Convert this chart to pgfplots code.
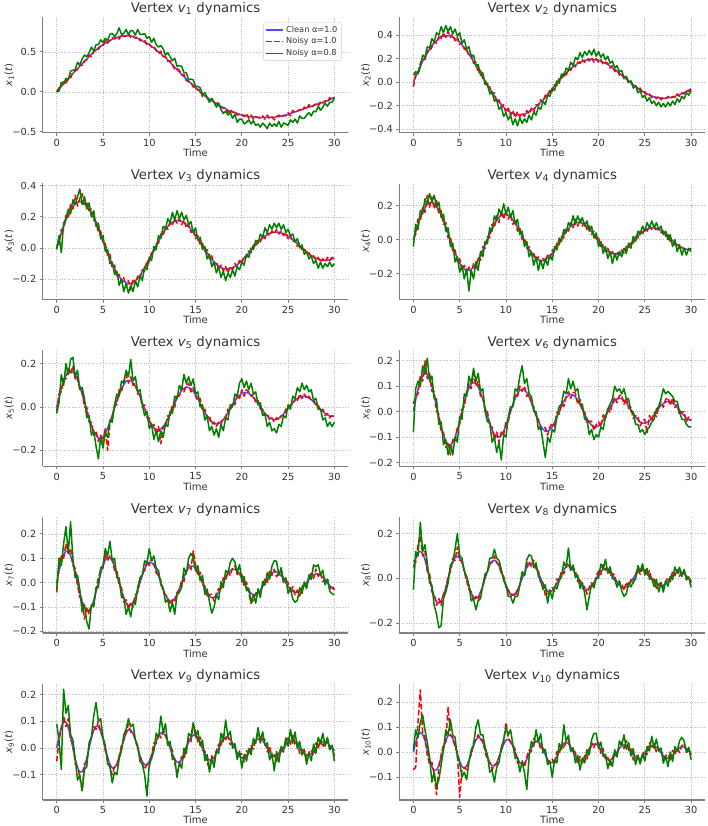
\documentclass[border=0pt]{standalone}
\usepackage{fontspec}
\setmainfont{DejaVu Sans}
\usepackage{pgfplots}
\usepackage{pgfplotstable}
\pgfplotsset{compat=1.18}
\usepgfplotslibrary{groupplots}
\definecolor{spinegray}{HTML}{808080}
\definecolor{textgray}{HTML}{333333}
\definecolor{gridgray}{HTML}{BDBDBD}

\pgfplotstableread{
t c r g
0 0.00 0.00 0.00
0.25 0.03 0.05 0.01
0.5 0.07 0.06 0.12
0.75 0.10 0.13 0.10
1 0.13 0.11 0.17
1.25 0.16 0.17 0.15
1.5 0.20 0.17 0.26
1.75 0.23 0.25 0.27
2 0.26 0.26 0.28
2.25 0.29 0.28 0.37
2.5 0.32 0.35 0.34
2.75 0.35 0.33 0.41
3 0.38 0.39 0.46
3.25 0.41 0.40 0.44
3.5 0.44 0.46 0.49
3.75 0.47 0.44 0.56
4 0.50 0.50 0.51
4.25 0.52 0.54 0.59
4.5 0.55 0.53 0.59
4.75 0.57 0.58 0.65
5 0.59 0.58 0.62
5.25 0.61 0.64 0.67
5.5 0.63 0.61 0.64
5.75 0.64 0.64 0.72
6 0.66 0.68 0.73
6.25 0.67 0.66 0.69
6.5 0.68 0.69 0.73
6.75 0.69 0.66 0.80
7 0.70 0.72 0.72
7.25 0.70 0.69 0.73
7.5 0.70 0.70 0.78
7.75 0.70 0.73 0.71
8 0.70 0.68 0.77
8.25 0.69 0.70 0.76
8.5 0.68 0.67 0.71
8.75 0.67 0.69 0.78
9 0.66 0.64 0.72
9.25 0.64 0.64 0.72
9.5 0.62 0.65 0.73
9.75 0.61 0.58 0.67
10 0.59 0.60 0.69
10.25 0.57 0.56 0.62
10.5 0.55 0.57 0.67
10.75 0.52 0.52 0.59
11 0.50 0.48 0.56
11.25 0.48 0.51 0.58
11.5 0.45 0.44 0.54
11.75 0.43 0.44 0.46
12 0.40 0.38 0.49
12.25 0.37 0.39 0.44
12.5 0.34 0.34 0.39
12.75 0.31 0.28 0.42
13 0.28 0.29 0.32
13.25 0.25 0.27 0.33
13.5 0.22 0.21 0.32
13.75 0.19 0.22 0.24
14 0.16 0.14 0.24
14.25 0.13 0.13 0.15
14.5 0.11 0.12 0.16
14.75 0.08 0.06 0.15
15 0.05 0.07 0.07
15.25 0.03 0.02 0.07
15.5 0.00 0.03 0.05
15.75 -0.03 -0.06 -0.03
16 -0.05 -0.04 -0.01
16.25 -0.07 -0.07 -0.07
16.5 -0.09 -0.11 -0.13
16.75 -0.11 -0.09 -0.08
17 -0.13 -0.14 -0.13
17.25 -0.15 -0.14 -0.19
17.5 -0.17 -0.14 -0.15
17.75 -0.18 -0.20 -0.22
18 -0.20 -0.20 -0.27
18.25 -0.21 -0.20 -0.24
18.5 -0.23 -0.26 -0.29
18.75 -0.24 -0.22 -0.26
19 -0.25 -0.26 -0.33
19.25 -0.26 -0.24 -0.28
19.5 -0.27 -0.29 -0.38
19.75 -0.28 -0.28 -0.34
20 -0.29 -0.28 -0.34
20.25 -0.30 -0.31 -0.40
20.5 -0.30 -0.27 -0.38
20.75 -0.31 -0.33 -0.35
21 -0.31 -0.29 -0.40
21.25 -0.31 -0.34 -0.36
21.5 -0.32 -0.31 -0.42
21.75 -0.32 -0.32 -0.40
22 -0.32 -0.33 -0.44
22.25 -0.32 -0.30 -0.39
22.5 -0.32 -0.34 -0.42
22.75 -0.32 -0.29 -0.46
23 -0.32 -0.33 -0.39
23.25 -0.32 -0.31 -0.43
23.5 -0.32 -0.35 -0.40
23.75 -0.31 -0.31 -0.43
24 -0.31 -0.29 -0.37
24.25 -0.30 -0.32 -0.44
24.5 -0.30 -0.29 -0.39
24.75 -0.29 -0.30 -0.40
25 -0.28 -0.26 -0.42
25.25 -0.27 -0.30 -0.35
25.5 -0.26 -0.23 -0.38
25.75 -0.25 -0.26 -0.34
26 -0.24 -0.24 -0.39
26.25 -0.23 -0.22 -0.30
26.5 -0.22 -0.24 -0.33
26.75 -0.21 -0.19 -0.33
27 -0.20 -0.21 -0.29
27.25 -0.19 -0.16 -0.26
27.5 -0.18 -0.20 -0.30
27.75 -0.17 -0.17 -0.24
28 -0.16 -0.15 -0.25
28.25 -0.15 -0.18 -0.18
28.5 -0.14 -0.12 -0.23
28.75 -0.13 -0.14 -0.19
29 -0.12 -0.11 -0.14
29.25 -0.11 -0.13 -0.18
29.5 -0.10 -0.07 -0.13
29.75 -0.08 -0.09 -0.13
30 -0.07 -0.07 -0.08
}\dA

\pgfplotstableread{
t c r g
0 0 -0.04 0.06
0.25 0.045 0.07 0.09
0.5 0.089 0.08 0.07
0.75 0.134 0.16 0.13
1 0.178 0.20 0.23
1.25 0.212 0.19 0.21
1.5 0.246 0.27 0.30
1.75 0.279 0.26 0.29
2 0.313 0.30 0.37
2.25 0.332 0.35 0.34
2.5 0.350 0.33 0.42
2.75 0.369 0.39 0.40
3 0.387 0.37 0.47
3.25 0.389 0.42 0.42
3.5 0.391 0.38 0.48
3.75 0.393 0.43 0.43
4 0.395 0.38 0.47
4.25 0.382 0.41 0.41
4.5 0.368 0.35 0.45
4.75 0.355 0.38 0.39
5 0.341 0.32 0.42
5.25 0.315 0.34 0.33
5.5 0.290 0.28 0.36
5.75 0.264 0.29 0.28
6 0.239 0.22 0.30
6.25 0.207 0.23 0.22
6.5 0.174 0.16 0.23
6.75 0.142 0.17 0.14
7 0.109 0.08 0.15
7.25 0.075 0.10 0.06
7.5 0.041 0.03 0.08
7.75 0.007 0.03 -0.02
8 -0.027 -0.05 -0.01
8.25 -0.057 -0.04 -0.10
8.5 -0.087 -0.10 -0.08
8.75 -0.116 -0.09 -0.16
9 -0.146 -0.17 -0.15
9.25 -0.168 -0.15 -0.23
9.5 -0.190 -0.21 -0.21
9.75 -0.212 -0.19 -0.29
10 -0.234 -0.26 -0.26
10.25 -0.245 -0.22 -0.32
10.5 -0.255 -0.28 -0.28
10.75 -0.266 -0.24 -0.36
11 -0.276 -0.30 -0.31
11.25 -0.275 -0.25 -0.37
11.5 -0.274 -0.29 -0.30
11.75 -0.273 -0.26 -0.35
12 -0.272 -0.29 -0.31
12.25 -0.261 -0.24 -0.34
12.5 -0.249 -0.27 -0.28
12.75 -0.238 -0.22 -0.32
13 -0.226 -0.25 -0.25
13.25 -0.207 -0.19 -0.28
13.5 -0.188 -0.20 -0.21
13.75 -0.169 -0.15 -0.23
14 -0.150 -0.17 -0.16
14.25 -0.127 -0.11 -0.19
14.5 -0.104 -0.12 -0.11
14.75 -0.080 -0.06 -0.12
15 -0.057 -0.08 -0.05
15.25 -0.034 -0.02 -0.07
15.5 -0.010 -0.03 0.01
15.75 0.014 0.03 -0.01
16 0.037 0.02 0.07
16.25 0.057 0.08 0.05
16.5 0.077 0.06 0.12
16.75 0.097 0.11 0.10
17 0.117 0.10 0.17
17.25 0.131 0.15 0.14
17.5 0.145 0.13 0.21
17.75 0.158 0.17 0.19
18 0.172 0.16 0.25
18.25 0.178 0.19 0.21
18.5 0.184 0.17 0.26
18.75 0.189 0.20 0.23
19 0.195 0.18 0.27
19.25 0.193 0.21 0.23
19.5 0.191 0.17 0.28
19.75 0.189 0.20 0.22
20 0.187 0.17 0.26
20.25 0.178 0.19 0.21
20.5 0.168 0.15 0.24
20.75 0.159 0.17 0.19
21 0.150 0.16 0.22
21.25 0.136 0.12 0.16
21.5 0.122 0.14 0.18
21.75 0.107 0.09 0.12
22 0.093 0.11 0.14
22.25 0.077 0.06 0.09
22.5 0.060 0.07 0.10
22.75 0.044 0.03 0.04
23 0.027 0.04 0.05
23.25 0.011 -0.01 0.00
23.5 -0.006 0.01 0.01
23.75 -0.022 -0.03 -0.05
24 -0.038 -0.03 -0.03
24.25 -0.051 -0.07 -0.09
24.5 -0.065 -0.05 -0.07
24.75 -0.078 -0.09 -0.13
25 -0.091 -0.08 -0.11
25.25 -0.100 -0.11 -0.16
25.5 -0.108 -0.10 -0.13
25.75 -0.117 -0.13 -0.18
26 -0.125 -0.12 -0.16
26.25 -0.128 -0.14 -0.20
26.5 -0.131 -0.12 -0.17
26.75 -0.134 -0.15 -0.21
27 -0.137 -0.13 -0.18
27.25 -0.135 -0.14 -0.21
27.5 -0.132 -0.12 -0.17
27.75 -0.130 -0.14 -0.20
28 -0.127 -0.12 -0.16
28.25 -0.120 -0.13 -0.19
28.5 -0.113 -0.10 -0.14
28.75 -0.105 -0.12 -0.17
29 -0.098 -0.09 -0.12
29.25 -0.088 -0.10 -0.14
29.5 -0.077 -0.07 -0.09
29.75 -0.067 -0.08 -0.11
30 -0.056 -0.06 -0.07
}\dB

\pgfplotstableread{
t c r g
0 0 0.01 -0.01
0.25 0.049 0.03 0.08
0.5 0.097 0.12 -0.03
0.75 0.139 0.12 0.16
1 0.181 0.21 0.19
1.25 0.214 0.19 0.25
1.5 0.246 0.28 0.22
1.75 0.266 0.25 0.31
2 0.286 0.34 0.28
2.25 0.293 0.27 0.33
2.5 0.300 0.32 0.38
2.75 0.294 0.35 0.28
3 0.287 0.27 0.33
3.25 0.269 0.29 0.25
3.5 0.251 0.24 0.29
3.75 0.222 0.25 0.20
4 0.194 0.18 0.24
4.25 0.159 0.17 0.14
4.5 0.124 0.10 0.16
4.75 0.085 0.11 0.06
5 0.047 0.03 0.08
5.25 0.008 0.03 -0.02
5.5 -0.031 -0.05 -0.01
5.75 -0.067 -0.04 -0.10
6 -0.102 -0.13 -0.09
6.25 -0.132 -0.11 -0.17
6.5 -0.161 -0.19 -0.15
6.75 -0.182 -0.17 -0.24
7 -0.203 -0.22 -0.20
7.25 -0.215 -0.19 -0.28
7.5 -0.226 -0.25 -0.23
7.75 -0.227 -0.21 -0.29
8 -0.229 -0.27 -0.24
8.25 -0.220 -0.20 -0.28
8.5 -0.211 -0.23 -0.21
8.75 -0.194 -0.18 -0.25
9 -0.176 -0.20 -0.18
9.25 -0.152 -0.14 -0.21
9.5 -0.128 -0.15 -0.12
9.75 -0.100 -0.08 -0.14
10 -0.072 -0.09 -0.06
10.25 -0.041 -0.03 -0.08
10.5 -0.011 -0.03 0.01
10.75 0.018 0.03 -0.01
11 0.047 0.03 0.08
11.25 0.072 0.09 0.06
11.5 0.098 0.08 0.14
11.75 0.118 0.14 0.12
12 0.138 0.12 0.19
12.25 0.152 0.17 0.16
12.5 0.165 0.15 0.23
12.75 0.171 0.19 0.18
13 0.176 0.16 0.24
13.25 0.174 0.19 0.19
13.5 0.172 0.15 0.23
13.75 0.162 0.18 0.18
14 0.153 0.13 0.21
14.25 0.137 0.15 0.15
14.5 0.122 0.10 0.17
14.75 0.101 0.12 0.10
15 0.081 0.06 0.13
15.25 0.059 0.08 0.05
15.5 0.036 0.02 0.07
15.75 0.013 0.03 -0.01
16 -0.010 -0.02 0.01
16.25 -0.031 -0.01 -0.07
16.5 -0.053 -0.07 -0.04
16.75 -0.071 -0.05 -0.12
17 -0.089 -0.11 -0.09
17.25 -0.102 -0.09 -0.16
17.5 -0.116 -0.14 -0.12
17.75 -0.124 -0.11 -0.19
18 -0.132 -0.15 -0.15
18.25 -0.133 -0.12 -0.21
18.5 -0.135 -0.16 -0.16
18.75 -0.131 -0.12 -0.19
19 -0.127 -0.14 -0.14
19.25 -0.118 -0.10 -0.18
19.5 -0.109 -0.12 -0.12
19.75 -0.095 -0.08 -0.14
20 -0.081 -0.10 -0.09
20.25 -0.065 -0.05 -0.11
20.5 -0.049 -0.06 -0.04
20.75 -0.031 -0.02 -0.06
21 -0.014 -0.03 0.00
21.25 0.004 0.02 -0.01
21.5 0.021 0.01 0.05
21.75 0.037 0.05 0.03
22 0.052 0.04 0.09
22.25 0.065 0.08 0.07
22.5 0.078 0.06 0.13
22.75 0.086 0.10 0.10
23 0.095 0.08 0.15
23.25 0.099 0.11 0.12
23.5 0.103 0.09 0.16
23.75 0.103 0.12 0.13
24 0.102 0.09 0.16
24.25 0.097 0.11 0.12
24.5 0.093 0.08 0.15
24.75 0.084 0.10 0.10
25 0.076 0.06 0.12
25.25 0.064 0.08 0.08
25.5 0.053 0.04 0.09
25.75 0.040 0.05 0.04
26 0.027 0.01 0.06
26.25 0.013 0.03 0.00
26.5 -0.001 -0.01 0.02
26.75 -0.014 0.00 -0.04
27 -0.026 -0.04 -0.02
27.25 -0.038 -0.03 -0.07
27.5 -0.049 -0.06 -0.05
27.75 -0.057 -0.05 -0.10
28 -0.066 -0.08 -0.08
28.25 -0.071 -0.06 -0.13
28.5 -0.076 -0.09 -0.09
28.75 -0.078 -0.07 -0.13
29 -0.080 -0.09 -0.10
29.25 -0.078 -0.06 -0.12
29.5 -0.076 -0.08 -0.09
29.75 -0.071 -0.06 -0.12
30 -0.066 -0.07 -0.10
}\dC

\pgfplotstableread{
t c r g
0 0 0.01 -0.04
0.25 0.045 0.03 0.09
0.5 0.091 0.12 0.06
0.75 0.127 0.11 0.17
1 0.164 0.19 0.15
1.25 0.186 0.16 0.24
1.5 0.209 0.26 0.21
1.75 0.214 0.19 0.27
2 0.220 0.25 0.22
2.25 0.209 0.18 0.26
2.5 0.198 0.23 0.19
2.75 0.172 0.15 0.22
3 0.147 0.17 0.13
3.25 0.111 0.09 0.15
3.5 0.076 0.10 0.05
3.75 0.037 0.01 0.07
4 -0.003 0.02 -0.04
4.25 -0.040 -0.07 -0.02
4.5 -0.078 -0.06 -0.13
4.75 -0.107 -0.13 -0.10
5 -0.137 -0.11 -0.19
5.25 -0.155 -0.18 -0.15
5.5 -0.173 -0.15 -0.23
5.75 -0.177 -0.20 -0.17
6 -0.181 -0.16 -0.30
6.25 -0.172 -0.20 -0.18
6.5 -0.162 -0.14 -0.23
6.75 -0.141 -0.17 -0.13
7 -0.119 -0.10 -0.18
7.25 -0.090 -0.12 -0.07
7.5 -0.060 -0.04 -0.10
7.75 -0.028 -0.05 -0.01
8 0.005 0.02 -0.02
8.25 0.035 0.01 0.07
8.5 0.066 0.09 0.05
8.75 0.090 0.07 0.14
9 0.115 0.14 0.11
9.25 0.129 0.10 0.18
9.5 0.144 0.17 0.15
9.75 0.147 0.12 0.21
10 0.150 0.17 0.15
10.25 0.141 0.12 0.19
10.5 0.133 0.15 0.13
10.75 0.115 0.09 0.17
11 0.097 0.12 0.09
11.25 0.072 0.05 0.12
11.5 0.048 0.07 0.03
11.75 0.021 0.00 0.05
12 -0.006 0.01 -0.04
12.25 -0.031 -0.05 -0.01
12.5 -0.056 -0.04 -0.10
12.75 -0.076 -0.09 -0.07
13 -0.096 -0.08 -0.15
13.25 -0.108 -0.12 -0.10
13.5 -0.119 -0.10 -0.18
13.75 -0.121 -0.14 -0.12
14 -0.123 -0.11 -0.17
14.25 -0.116 -0.13 -0.11
14.5 -0.109 -0.09 -0.15
14.75 -0.094 -0.11 -0.09
15 -0.079 -0.06 -0.12
15.25 -0.058 -0.07 -0.04
15.5 -0.038 -0.02 -0.06
15.75 -0.016 -0.03 0.01
16 0.007 0.02 -0.01
16.25 0.027 0.01 0.06
16.5 0.048 0.07 0.04
16.75 0.064 0.05 0.10
17 0.080 0.10 0.08
17.25 0.089 0.07 0.14
17.5 0.099 0.12 0.09
17.75 0.100 0.08 0.14
18 0.102 0.12 0.10
18.25 0.096 0.08 0.13
18.5 0.089 0.10 0.08
18.75 0.077 0.06 0.11
19 0.064 0.08 0.05
19.25 0.047 0.03 0.08
19.5 0.030 0.05 0.01
19.75 0.012 0.00 0.04
20 -0.007 0.01 -0.04
20.25 -0.024 -0.04 -0.01
20.5 -0.041 -0.03 -0.08
20.75 -0.054 -0.07 -0.04
21 -0.067 -0.05 -0.11
21.25 -0.075 -0.09 -0.07
21.5 -0.082 -0.07 -0.14
21.75 -0.083 -0.10 -0.08
22 -0.084 -0.07 -0.12
22.25 -0.079 -0.09 -0.07
22.5 -0.073 -0.06 -0.10
22.75 -0.062 -0.08 -0.05
23 -0.052 -0.04 -0.08
23.25 -0.038 -0.05 -0.02
23.5 -0.024 -0.01 -0.05
23.75 -0.009 -0.02 0.02
24 0.007 0.02 -0.01
24.25 0.021 0.01 0.05
24.5 0.035 0.05 0.03
24.75 0.045 0.03 0.08
25 0.056 0.07 0.05
25.25 0.062 0.05 0.10
25.5 0.068 0.08 0.07
25.75 0.069 0.06 0.11
26 0.069 0.08 0.07
26.25 0.065 0.05 0.10
26.5 0.060 0.07 0.06
26.75 0.051 0.04 0.08
27 0.042 0.05 0.03
27.25 0.030 0.02 0.05
27.5 0.019 0.03 0.00
27.75 0.006 -0.01 0.03
28 -0.006 0.00 -0.04
28.25 -0.018 -0.03 0.00
28.5 -0.029 -0.02 -0.07
28.75 -0.038 -0.05 -0.03
29 -0.047 -0.04 -0.09
29.25 -0.052 -0.06 -0.05
29.5 -0.056 -0.05 -0.09
29.75 -0.057 -0.06 -0.05
30 -0.057 -0.05 -0.07
}\dD

\pgfplotstableread{
t c r g
0 0 -0.02 -0.03
0.25 0.043 0.06 0.02
0.5 0.086 0.07 0.15
0.75 0.116 0.13 0.10
1 0.147 0.13 0.20
1.25 0.158 0.18 0.15
1.5 0.170 0.15 0.22
1.75 0.161 0.19 0.23
2 0.151 0.13 0.14
2.25 0.124 0.14 0.17
2.5 0.097 0.08 0.08
2.75 0.060 0.07 0.09
3 0.022 0.00 0.04
3.25 -0.016 0.00 -0.05
3.5 -0.054 -0.07 -0.04
3.75 -0.084 -0.07 -0.13
4 -0.114 -0.13 -0.11
4.25 -0.129 -0.11 -0.18
4.5 -0.144 -0.16 -0.24
4.75 -0.141 -0.13 -0.14
5 -0.138 -0.16 -0.19
5.25 -0.119 -0.10 -0.12
5.5 -0.099 -0.20 -0.14
5.75 -0.069 -0.08 -0.06
6 -0.038 -0.05 -0.07
6.25 -0.005 0.01 0.01
6.5 0.029 0.01 0.06
6.75 0.057 0.08 0.05
7 0.086 0.07 0.12
7.25 0.103 0.12 0.11
7.5 0.120 0.15 0.17
7.75 0.122 0.11 0.14
8 0.123 0.14 0.22
8.25 0.110 0.10 0.12
8.5 0.097 0.11 0.14
8.75 0.073 0.06 0.07
9 0.049 0.06 0.08
9.25 0.020 0.00 0.01
9.5 -0.009 0.01 -0.04
9.75 -0.035 -0.05 -0.02
10 -0.062 -0.05 -0.10
10.25 -0.079 -0.10 -0.08
10.5 -0.097 -0.08 -0.15
10.75 -0.103 -0.13 -0.11
11 -0.108 -0.09 -0.16
11.25 -0.100 -0.17 -0.11
11.5 -0.092 -0.09 -0.14
11.75 -0.074 -0.09 -0.08
12 -0.055 -0.04 -0.09
12.25 -0.031 -0.04 -0.02
12.5 -0.007 0.01 -0.03
12.75 0.017 0.00 0.05
13 0.041 0.06 0.04
13.25 0.059 0.05 0.10
13.5 0.077 0.09 0.08
13.75 0.085 0.07 0.15
14 0.093 0.10 0.11
14.25 0.089 0.11 0.14
14.5 0.085 0.07 0.10
14.75 0.072 0.09 0.13
15 0.058 0.05 0.06
15.25 0.038 0.03 0.07
15.5 0.018 0.04 0.00
15.75 -0.003 -0.02 0.01
16 -0.024 -0.01 -0.06
16.25 -0.042 -0.05 -0.04
16.5 -0.059 -0.04 -0.11
16.75 -0.068 -0.08 -0.09
17 -0.078 -0.07 -0.13
17.25 -0.077 -0.09 -0.10
17.5 -0.077 -0.07 -0.14
17.75 -0.068 -0.08 -0.08
18 -0.058 -0.05 -0.11
18.25 -0.042 -0.05 -0.05
18.5 -0.026 -0.01 -0.06
18.75 -0.007 -0.02 0.01
19 0.011 0.02 0.00
19.25 0.027 0.01 0.06
19.5 0.044 0.06 0.05
19.75 0.054 0.04 0.11
20 0.064 0.08 0.13
20.25 0.066 0.05 0.09
20.5 0.068 0.08 0.12
20.75 0.062 0.07 0.08
21 0.056 0.05 0.11
21.25 0.043 0.06 0.06
21.5 0.031 0.02 0.07
21.75 0.015 0.03 0.01
22 -0.001 -0.01 0.02
22.25 -0.015 -0.01 -0.04
22.5 -0.030 -0.04 -0.03
22.75 -0.041 -0.03 -0.09
23 -0.051 -0.06 -0.07
23.25 -0.055 -0.05 -0.11
23.5 -0.059 -0.07 -0.10
23.75 -0.056 -0.05 -0.12
24 -0.052 -0.06 -0.08
24.25 -0.043 -0.04 -0.09
24.5 -0.033 -0.04 -0.04
24.75 -0.020 -0.01 -0.05
25 -0.007 -0.01 0.01
25.25 0.006 0.01 -0.01
25.5 0.019 0.01 0.05
25.75 0.030 0.04 0.04
26 0.040 0.03 0.09
26.25 0.045 0.06 0.07
26.5 0.050 0.04 0.11
26.75 0.049 0.06 0.08
27 0.048 0.04 0.10
27.25 0.041 0.05 0.07
27.5 0.034 0.03 0.08
27.75 0.024 0.03 0.03
28 0.013 0.01 0.04
28.25 0.001 0.01 -0.01
28.5 -0.010 -0.02 -0.01
28.75 -0.020 -0.01 -0.06
29 -0.030 -0.04 -0.05
29.25 -0.036 -0.03 -0.09
29.5 -0.042 -0.05 -0.07
29.75 -0.042 -0.04 -0.09
30 -0.043 -0.05 -0.07
}\dE

\pgfplotstableread{
t c r g
0 0 0.03 -0.08
0.25 0.047 0.06 0.09
0.5 0.088 0.07 0.12
0.75 0.121 0.14 0.10
1 0.142 0.12 0.18
1.25 0.150 0.20 0.15
1.5 0.145 0.13 0.21
1.75 0.127 0.15 0.12
2 0.099 0.08 0.14
2.25 0.062 0.08 0.05
2.5 0.021 0.00 0.05
2.75 -0.021 -0.01 -0.05
3 -0.060 -0.08 -0.04
3.25 -0.093 -0.08 -0.13
3.5 -0.116 -0.14 -0.11
3.75 -0.129 -0.12 -0.17
4 -0.131 -0.17 -0.13
4.25 -0.121 -0.11 -0.17
4.5 -0.100 -0.12 -0.10
4.75 -0.071 -0.06 -0.12
5 -0.037 -0.05 -0.02
5.25 0 0.01 -0.03
5.5 0.036 0.02 0.07
5.75 0.068 0.08 0.06
6 0.093 0.11 0.14
6.25 0.109 0.09 0.11
6.5 0.115 0.15 0.17
6.75 0.111 0.10 0.12
7 0.098 0.12 0.15
7.25 0.076 0.06 0.08
7.5 0.048 0.06 0.09
7.75 0.016 0.00 0.00
8 -0.016 0.00 -0.04
8.25 -0.046 -0.06 -0.04
8.5 -0.071 -0.06 -0.12
8.75 -0.090 -0.11 -0.10
9 -0.099 -0.08 -0.16
9.25 -0.100 -0.12 -0.12
9.5 -0.093 -0.08 -0.19
9.75 -0.077 -0.09 -0.09
10 -0.055 -0.04 -0.10
10.25 -0.028 -0.04 -0.02
10.5 0 0.01 0.02
10.75 0.028 0.02 0.02
11 0.052 0.07 0.09
11.25 0.071 0.06 0.08
11.5 0.084 0.10 0.14
11.75 0.089 0.08 0.18
12 0.086 0.10 0.11
12.25 0.075 0.06 0.13
12.5 0.058 0.07 0.07
12.75 0.037 0.03 0.06
13 0.012 0.02 0.00
13.25 -0.012 -0.02 0.00
13.5 -0.035 -0.03 -0.07
13.75 -0.055 -0.07 -0.06
14 -0.069 -0.064 -0.12
14.25 -0.077 -0.062 -0.18
14.5 -0.077 -0.092 -0.10
14.75 -0.071 -0.061 -0.12
15 -0.059 -0.044 -0.07
15.25 -0.042 -0.057 -0.08
15.5 -0.022 -0.002 -0.02
15.75 0 -0.010 0.02
16 0.021 0.031 0.03
16.25 0.040 0.020 0.08
16.5 0.055 0.060 0.07
16.75 0.064 0.079 0.13
17 0.068 0.053 0.09
17.25 0.066 0.076 0.12
17.5 0.058 0.073 0.08
17.75 0.045 0.030 0.09
18 0.028 0.048 0.03
18.25 0.010 0.000 0.03
18.5 -0.010 0.000 -0.03
18.75 -0.027 -0.047 -0.03
19 -0.042 -0.037 -0.09
19.25 -0.053 -0.038 -0.07
19.5 -0.059 -0.074 -0.11
19.75 -0.060 -0.050 -0.09
20 -0.055 -0.040 -0.10
20.25 -0.046 -0.061 -0.06
20.5 -0.032 -0.012 -0.07
20.75 -0.017 -0.027 -0.02
21 0 0.010 0.01
21.25 0.016 -0.004 0.03
21.5 0.031 0.036 0.05
21.75 0.042 0.057 0.10
22 0.050 0.035 0.08
22.25 0.053 0.063 0.09
22.5 0.051 0.066 0.07
22.75 0.044 0.029 0.09
23 0.035 0.055 0.05
23.25 0.022 0.012 0.05
23.5 0.007 0.017 0.00
23.75 -0.007 -0.027 0.00
24 -0.021 -0.016 -0.05
24.25 -0.032 -0.017 -0.05
24.5 -0.041 -0.056 -0.08
24.75 -0.045 -0.035 -0.07
25 -0.046 -0.031 -0.09
25.25 -0.042 -0.085 -0.07
25.5 -0.035 -0.015 -0.06
25.75 -0.025 -0.035 -0.04
26 -0.013 -0.003 -0.03
26.25 0 -0.020 0.01
26.5 0.013 0.018 0.02
26.75 0.024 0.039 0.05
27 0.032 0.017 0.09
27.25 0.038 0.048 0.07
27.5 0.040 0.055 0.08
27.75 0.039 0.024 0.07
28 0.034 0.054 0.06
28.25 0.027 0.017 0.04
28.5 0.017 0.027 0.04
28.75 0.006 -0.014 0.00
29 -0.006 -0.001 -0.03
29.25 -0.016 -0.001 -0.03
29.5 -0.025 -0.040 -0.05
29.75 -0.031 -0.021 -0.06
30 -0.035 -0.035 -0.06
}\dF

\pgfplotstableread{
t c r g
0 0 -0.04 -0.03
0.25 0.046 0.07 0.10
0.5 0.086 0.11 0.07
0.75 0.115 0.10 0.16
1 0.129 0.16 0.23
1.25 0.127 0.12 0.12
1.5 0.111 0.14 0.25
1.75 0.081 0.07 0.10
2 0.043 0.06 0.02
2.25 0 -0.01 0.03
2.5 -0.042 -0.06 -0.03
2.75 -0.077 -0.07 -0.12
3 -0.103 -0.15 -0.09
3.25 -0.116 -0.10 -0.16
3.5 -0.115 -0.13 -0.19
3.75 -0.100 -0.09 -0.09
4 -0.073 -0.09 -0.10
4.25 -0.038 -0.03 -0.02
4.5 0 0.02 -0.02
4.75 0.038 0.05 0.06
5 0.070 0.06 0.07
5.25 0.093 0.12 0.14
5.5 0.104 0.09 0.11
5.75 0.103 0.11 0.17
6 0.090 0.10 0.09
6.25 0.066 0.05 0.10
6.5 0.035 0.05 0.02
6.75 0 -0.01 0.02
7 -0.034 -0.02 -0.06
7.25 -0.063 -0.08 -0.06
7.5 -0.083 -0.07 -0.13
7.75 -0.094 -0.11 -0.10
8 -0.093 -0.08 -0.14
8.25 -0.081 -0.10 -0.08
8.5 -0.059 -0.05 -0.09
8.75 -0.031 -0.04 -0.02
9 0 0.01 0.02
9.25 0.030 0.04 0.03
9.5 0.056 0.05 0.09
9.75 0.075 0.09 0.08
10 0.084 0.07 0.14
10.25 0.083 0.10 0.09
10.5 0.072 0.08 0.11
10.75 0.053 0.04 0.06
11 0.028 0.03 0.05
11.25 0 0.01 -0.01
11.5 -0.027 -0.04 -0.02
11.75 -0.051 -0.05 -0.08
12 -0.068 -0.06 -0.07
12.25 -0.076 -0.09 -0.12
12.5 -0.075 -0.07 -0.08
12.75 -0.065 -0.08 -0.13
13 -0.048 -0.04 -0.05
13.25 -0.025 -0.03 -0.04
13.5 0 0.010 -0.020
13.75 0.025 0.005 0.060
14 0.046 0.051 0.036
14.25 0.061 0.076 0.100
14.5 0.068 0.053 0.120
14.75 0.068 0.130 0.103
15 0.059 0.074 0.048
15.25 0.043 0.028 0.069
15.5 0.023 0.043 0.008
15.75 0 -0.010 0.030
16 -0.022 -0.012 -0.048
16.25 -0.041 -0.061 -0.026
16.5 -0.055 -0.050 -0.078
16.75 -0.062 -0.047 -0.125
17 -0.061 -0.076 -0.101
17.25 -0.053 -0.043 -0.051
17.5 -0.039 -0.024 -0.069
17.75 -0.020 -0.035 0.004
18 0 0.020 -0.020
18.25 0.020 0.010 0.050
18.5 0.037 0.047 0.037
18.75 0.049 0.029 0.083
19 0.055 0.060 0.100
19.25 0.055 0.070 0.085
19.5 0.048 0.033 0.041
19.75 0.035 0.045 0.075
20 0.018 0.033 0.004
20.25 0 -0.015 0.025
20.5 -0.018 0.002 -0.033
20.75 -0.033 -0.043 -0.023
21 -0.044 -0.085 -0.082
21.25 -0.050 -0.070 -0.049
21.5 -0.049 -0.044 -0.084
21.75 -0.043 -0.028 -0.025
22 -0.031 -0.046 -0.061
22.25 -0.016 -0.006 0.004
22.5 0 0.015 -0.010
22.75 0.016 0.001 0.041
23 0.030 0.050 0.014
23.25 0.040 0.030 0.067
23.5 0.045 0.055 0.090
23.75 0.044 0.024 0.088
24 0.038 0.043 0.030
24.25 0.028 0.043 0.062
24.5 0.015 0.000 0.009
24.75 0 0.010 0.020
25 -0.015 0.001 -0.044
25.25 -0.027 -0.042 -0.021
25.5 -0.036 -0.016 -0.067
25.75 -0.040 -0.050 -0.080
26 -0.040 -0.030 -0.073
26.25 -0.035 -0.055 -0.021
26.5 -0.025 -0.020 -0.044
26.75 -0.013 0.002 0.002
27 0 -0.015 -0.025
27.25 0.013 0.023 0.032
27.5 0.024 0.039 0.013
27.75 0.032 0.017 0.073
28 0.036 0.056 0.065
28.25 0.036 0.026 0.074
28.5 0.031 0.041 0.032
28.75 0.023 0.003 0.051
29 0.012 0.017 -0.009
29.25 0 0.015 0.015
29.5 -0.012 -0.027 -0.036
29.75 -0.022 -0.012 -0.045
30 -0.029 -0.030 -0.050
}\dG

\pgfplotstableread{
t c r g
0 0.048 0.08 -0.05
0.25 0.088 0.07 0.12
0.5 0.114 0.15 0.10
0.75 0.121 0.19 0.25
1 0.111 0.10 0.12
1.25 0.084 0.12 0.15
1.5 0.045 0.03 0.07
1.75 0 0.02 -0.02
2 -0.044 -0.06 -0.03
2.25 -0.080 -0.07 -0.12
2.5 -0.103 -0.12 -0.16
2.75 -0.110 -0.09 -0.22
3 -0.100 -0.12 -0.21
3.25 -0.076 -0.07 -0.09
3.5 -0.041 -0.05 -0.06
3.75 0 0.01 -0.02
4 0.040 0.03 0.06
4.25 0.072 0.09 0.07
4.5 0.093 0.08 0.13
4.75 0.099 0.14 0.20
5 0.091 0.08 0.10
5.25 0.069 0.08 0.09
5.5 0.037 0.03 0.03
5.75 0 -0.01 0.01
6 -0.036 -0.05 -0.03
6.25 -0.065 -0.06 -0.10
6.5 -0.084 -0.10 -0.09
6.75 -0.090 -0.08 -0.14
7 -0.082 -0.10 -0.10
7.25 -0.062 -0.06 -0.09
7.5 -0.033 -0.04 -0.03
7.75 0 0.01 0.02
8 0.032 0.03 0.03
8.25 0.059 0.07 0.09
8.5 0.076 0.07 0.09
8.75 0.082 0.10 0.13
9 0.074 0.07 0.09
9.25 0.056 0.06 0.08
9.5 0.030 0.02 0.04
9.75 0 0.01 -0.01
10 -0.029 -0.04 -0.03
10.25 -0.053 -0.05 -0.08
10.5 -0.069 -0.08 -0.08
10.75 -0.074 -0.07 -0.11
11 -0.067 -0.08 -0.08
11.25 -0.051 -0.05 -0.08
11.5 -0.027 -0.03 -0.03
11.75 0 0.015 0.030
12 0.027 0.012 0.012
12.25 0.048 0.058 0.083
12.5 0.062 0.077 0.105
12.75 0.067 0.052 0.100
13 0.061 0.081 0.048
13.25 0.046 0.036 0.070
13.5 0.025 0.035 0.010
13.75 0 -0.020 -0.010
14 -0.024 -0.019 -0.049
14.25 -0.044 -0.075 -0.028
14.5 -0.057 -0.072 -0.110
14.75 -0.060 -0.050 -0.052
15 -0.055 -0.040 -0.091
15.25 -0.042 -0.057 -0.035
15.5 -0.022 -0.002 -0.047
15.75 0 -0.010 -0.010
16 0.022 0.032 0.006
16.25 0.040 0.020 0.073
16.5 0.051 0.056 0.051
16.75 0.055 0.070 0.135
17 0.050 0.035 0.035
17.25 0.038 0.048 0.060
17.5 0.020 0.035 0.004
17.75 0 -0.015 0.015
18 -0.020 0.000 -0.044
18.25 -0.036 -0.046 -0.018
18.5 -0.046 -0.036 -0.066
18.75 -0.050 -0.070 -0.140
19 -0.045 -0.040 -0.079
19.25 -0.034 -0.019 -0.026
19.5 -0.018 -0.033 -0.042
19.75 0 0.010 0.000
20 0.018 0.033 0.001
20.25 0.032 0.017 0.064
20.5 0.042 0.062 0.040
20.75 0.045 0.035 0.085
21 0.041 0.051 0.024
21.25 0.031 0.011 0.052
21.5 0.017 0.022 0.000
21.75 0 0.015 -0.005
22 -0.016 -0.031 -0.039
22.25 -0.029 -0.019 -0.010
22.5 -0.038 -0.023 -0.055
22.75 -0.040 -0.055 -0.080
23 -0.037 -0.017 -0.069
23.25 -0.028 -0.038 -0.019
23.5 -0.015 -0.005 -0.038
23.75 0 -0.020 -0.015
24 0.015 0.020 -0.003
24.25 0.027 0.042 0.057
24.5 0.034 0.019 0.031
24.75 0.037 0.047 0.065
25 0.033 0.048 0.015
25.25 0.025 0.010 0.045
25.5 0.014 0.034 -0.004
25.75 0 -0.010 0.000
26 -0.013 -0.003 -0.036
26.25 -0.024 -0.044 -0.004
26.5 -0.031 -0.026 -0.060
26.75 -0.033 -0.018 -0.020
27 -0.030 -0.045 -0.061
27.25 -0.023 -0.013 -0.012
27.5 -0.012 0.003 -0.035
27.75 0 -0.015 0.010
28 0.012 0.032 -0.006
28.25 0.022 0.012 0.051
28.5 0.028 0.038 0.024
28.75 0.030 0.010 0.050
29 0.027 0.032 0.008
29.25 0.021 0.036 0.040
29.5 0.011 -0.004 -0.007
29.75 0 0.010 0.005
30 -0.011 -0.020 -0.040
}\dH

\pgfplotstableread{
t c r g
0 0 -0.05 0.09
0.25 0.045 0.03 0.03
0.5 0.079 0.07 -0.08
0.75 0.098 0.12 0.22
1 0.097 0.08 0.13
1.25 0.077 0.11 0.16
1.5 0.042 0.03 0.05
1.75 0 0.02 0.03
2 -0.041 -0.06 -0.04
2.25 -0.073 -0.07 -0.12
2.5 -0.090 -0.11 -0.10
2.75 -0.088 -0.16 -0.16
3 -0.070 -0.06 -0.08
3.25 -0.038 -0.05 -0.07
3.5 0 0.01 0.02
3.75 0.038 0.04 0.04
4 0.067 0.08 0.12
4.25 0.082 0.07 0.17
4.5 0.081 0.10 0.10
4.75 0.064 0.06 0.11
5 0.035 0.04 0.04
5.25 0 -0.01 0.01
5.5 -0.034 -0.04 -0.06
5.75 -0.061 -0.07 -0.07
6 -0.075 -0.10 -0.13
6.25 -0.074 -0.07 -0.09
6.5 -0.059 -0.07 -0.10
6.75 -0.032 -0.03 -0.04
7 0 0.01 -0.01
7.25 0.031 0.03 0.05
7.5 0.056 0.06 0.07
7.75 0.069 0.09 0.11
8 0.068 0.06 0.08
8.25 0.054 0.06 0.09
8.5 0.030 0.03 0.03
8.75 0 0.00 0.01
9 -0.029 -0.03 -0.05
9.25 -0.051 -0.06 -0.06
9.5 -0.063 -0.08 -0.10
9.75 -0.062 -0.06 -0.18
10 -0.049 -0.07 -0.06
10.25 -0.027 -0.03 -0.04
10.5 0 0.020 -0.010
10.75 0.026 0.016 0.056
11 0.047 0.057 0.038
11.25 0.058 0.038 0.120
11.5 0.057 0.062 0.057
11.75 0.045 0.060 0.091
12 0.025 0.010 0.013
12.25 0 0.010 0.025
12.5 -0.024 -0.009 -0.043
12.75 -0.043 -0.058 -0.038
13 -0.053 -0.090 -0.110
13.25 -0.052 -0.062 -0.056
13.5 -0.042 -0.032 -0.076
13.75 -0.023 -0.043 -0.001
14 0 0.005 -0.020
14.25 0.022 0.037 0.055
14.5 0.039 0.024 0.043
14.75 0.049 0.090 0.095
15 0.048 0.063 0.040
15.25 0.038 0.023 0.066
15.5 0.021 0.041 0.008
15.75 0 -0.010 0.030
16 -0.020 -0.010 -0.047
16.25 -0.036 -0.056 -0.024
16.5 -0.045 -0.075 -0.090
16.75 -0.044 -0.029 -0.039
17 -0.035 -0.050 -0.072
17.25 -0.019 -0.009 -0.011
17.5 0 0.015 -0.020
17.75 0.019 0.004 0.055
18 0.033 0.053 0.025
18.25 0.041 0.031 0.105
18.5 0.040 0.050 0.044
18.75 0.032 0.012 0.063
19 0.018 0.023 -0.001
19.25 0 0.015 0.015
19.5 -0.017 -0.032 -0.043
19.75 -0.030 -0.020 -0.011
20 -0.037 -0.022 -0.075
20.25 -0.037 -0.052 -0.025
20.5 -0.029 -0.009 -0.049
20.75 -0.016 -0.026 -0.002
21 0 0.010 -0.025
21.25 0.016 -0.004 0.036
21.5 0.028 0.033 0.018
21.75 0.034 0.049 0.076
22 0.034 0.019 0.026
22.25 0.027 0.037 0.061
22.5 0.015 0.030 0.010
22.75 0 -0.015 0.020
23 -0.014 0.006 -0.044
23.25 -0.026 -0.036 -0.019
23.5 -0.031 -0.021 -0.085
23.75 -0.031 -0.051 -0.012
24 -0.025 -0.020 -0.053
24.25 -0.014 0.002 0.007
24.5 0 -0.015 -0.010
24.75 0.013 0.023 0.038
25 0.023 0.038 0.006
25.25 0.029 0.014 0.070
25.5 0.028 0.048 0.018
25.75 0.023 0.013 0.060
26 0.012 0.022 -0.003
26.25 0 -0.020 0.025
26.5 -0.012 -0.007 -0.026
26.75 -0.021 -0.006 -0.009
27 -0.026 -0.041 -0.061
27.25 -0.026 -0.016 -0.020
27.5 -0.021 -0.006 -0.048
27.75 -0.011 -0.026 0.015
28 0 0.020 -0.020
28.25 0.011 0.001 0.040
28.5 0.020 0.030 0.016
28.75 0.024 0.004 0.055
29 0.024 0.029 0.007
29.25 0.019 0.034 0.040
29.5 0.010 -0.005 -0.006
29.75 0 0.010 0.010
30 -0.010 -0.030 -0.050
}\dI

\pgfplotstableread{
t c r g
0 0 -0.07 0.01
0.25 0.039 -0.06 0.09
0.5 0.068 0.12 0.06
0.75 0.080 0.25 0.12
1 0.072 0.08 0.15
1.25 0.047 0.06 0.09
1.5 0.011 -0.01 0.04
1.75 -0.027 -0.05 -0.02
2 -0.058 -0.04 -0.12
2.25 -0.073 -0.09 -0.08
2.5 -0.071 -0.17 -0.14
2.75 -0.052 -0.06 -0.11
3 -0.020 -0.01 -0.05
3.25 0.015 0.03 0.01
3.5 0.047 0.04 0.09
3.75 0.066 0.18 0.07
4 0.069 0.07 0.13
4.25 0.055 0.06 0.07
4.5 0.028 0.02 0.06
4.75 -0.005 0.00 -0.02
5 -0.036 -0.18 -0.04
5.25 -0.058 -0.07 -0.10
5.5 -0.065 -0.06 -0.08
5.75 -0.056 -0.07 -0.11
6 -0.034 -0.03 -0.04
6.25 -0.004 -0.01 0.01
6.5 0.026 0.04 0.03
6.75 0.049 0.05 0.10
7 0.060 0.07 0.13
7.25 0.056 0.05 0.07
7.5 0.039 0.05 0.07
7.75 0.012 0.00 0.02
8 -0.017 -0.03 -0.01
8.25 -0.041 -0.04 -0.08
8.5 -0.055 -0.07 -0.07
8.75 -0.055 -0.05 -0.12
9 -0.042 -0.05 -0.06
9.25 -0.019 -0.02 -0.04
9.5 0.008 0.01 0.02
9.75 0.032 0.04 0.05
10 0.048 0.12 0.10
10.25 0.052 0.06 0.07
10.5 0.043 0.04 0.09
10.75 0.024 0.03 0.03
11 -0.001 0.010 -0.026
11.25 -0.024 -0.044 -0.019
11.5 -0.042 -0.037 -0.079
11.75 -0.049 -0.034 -0.038
12 -0.044 -0.059 -0.081
12.25 -0.028 -0.018 -0.150
12.5 -0.006 0.009 -0.019
12.75 0.017 0.002 0.044
13 0.035 0.055 0.024
13.25 0.045 0.035 0.090
13.5 0.043 0.053 0.041
13.75 0.031 0.011 0.074
14 0.012 0.017 -0.003
14.25 -0.010 0.005 0.011
14.5 -0.029 -0.044 -0.050
14.75 -0.040 -0.030 -0.036
15 -0.042 -0.027 -0.100
15.25 -0.033 -0.048 -0.031
15.5 -0.017 0.003 -0.043
15.75 0.003 -0.007 0.035
16 0.022 0.032 0.011
16.25 0.035 0.015 0.110
16.5 0.040 0.045 0.045
16.75 0.034 0.049 0.068
17 0.021 0.006 0.004
17.25 0.002 0.012 0.018
17.5 -0.016 -0.001 -0.043
17.75 -0.030 -0.045 -0.012
18 -0.037 -0.017 -0.071
18.25 -0.034 -0.044 -0.023
18.5 -0.023 -0.013 -0.043
18.75 -0.007 -0.027 0.010
19 0.011 0.016 -0.010
19.25 0.025 0.040 0.050
19.5 0.033 0.018 0.075
19.75 0.033 0.043 0.076
20 0.025 0.040 0.015
20.25 0.011 -0.004 0.041
20.5 -0.005 0.015 -0.017
20.75 -0.020 -0.030 -0.008
21 -0.030 -0.020 -0.066
21.25 -0.032 -0.052 -0.030
21.5 -0.026 -0.021 -0.057
21.75 -0.015 0.000 0.010
22 0.001 -0.015 -0.019
22.25 0.015 0.025 0.046
22.5 0.026 0.041 0.026
22.75 0.030 0.015 0.070
23 0.027 0.047 0.012
23.25 0.017 0.007 0.039
23.5 0.004 0.014 -0.015
23.75 -0.011 -0.031 0.015
24 -0.022 -0.017 -0.050
24.25 -0.027 -0.012 -0.013
24.5 -0.026 -0.041 -0.047
24.75 -0.019 -0.009 -0.006
25 -0.007 0.008 -0.035
25.25 0.006 -0.009 0.024
25.5 0.018 0.038 0.005
25.75 0.025 0.015 0.064
26 0.026 0.036 0.016
26.25 0.020 0.000 0.053
26.5 0.010 0.015 0.004
26.75 -0.002 0.013 0.017
27 -0.014 -0.029 -0.044
27.25 -0.022 -0.012 -0.015
27.5 -0.024 -0.009 -0.058
27.75 -0.021 -0.036 0.001
28 -0.012 0.008 -0.037
28.25 -0.001 -0.011 0.023
28.5 0.010 0.020 0.004
28.75 0.019 -0.001 0.046
29 0.022 0.027 0.060
29.25 0.021 0.036 0.044
29.5 0.014 -0.001 0.000
29.75 0.004 0.014 0.020
30 -0.007 -0.010 -0.030
}\dJ

\pgfplotsset{
  cleanline/.style={draw=blue, draw opacity=0.7, line width=1.5pt, line join=round},
  noisyone/.style={draw=red, line width=1.5pt, dash pattern=on 5.5pt off 2.4pt, line join=round},
  noisytwo/.style={draw=green!50!black, line width=1.5pt, line join=round},
}

\begin{document}
\begin{tikzpicture}
\begin{groupplot}[
  group style={group size=2 by 5, horizontal sep=51.2pt, vertical sep=50.8pt},
  scale only axis, width=305.5pt, height=116pt,
  xmin=-1.5, xmax=31.5,
  xtick={0,5,10,15,20,25,30}, xticklabels={0,5,10,15,20,25,30},
  axis x line=bottom, axis y line=left,
  axis line style={-, draw=spinegray, line width=1.4pt},
  every inner x axis line/.append style={-},
  every outer x axis line/.append style={-},
  every inner y axis line/.append style={-},
  every outer y axis line/.append style={-},
  tick align=outside, major tick length=3pt,
  tick style={draw=spinegray, line width=0.9pt},
  grid=major,
  grid style={draw=gridgray, line width=0.7pt, dash pattern=on 0.8pt off 1.6pt},
  ticklabel style={font=\fontsize{9.8}{11}\selectfont, text=textgray},
  every axis title/.style={at={(0.5,1)}, anchor=base, yshift=4pt, inner sep=0pt,
    font=\fontsize{13.3}{15}\selectfont, text=textgray},
  xlabel={Time},
  every axis x label/.style={at={(axis description cs:0.5,0)}, anchor=base, yshift=-24pt,
    inner sep=0pt, font=\fontsize{10}{12}\selectfont, text=textgray},
  every axis y label/.style={at={(axis description cs:-0.11,0.5)}, rotate=90, anchor=center,
    inner sep=0pt, font=\fontsize{10}{12}\selectfont, text=textgray},
  legend style={at={(rel axis cs:0.978,0.952)}, anchor=north east,
    font=\fontsize{8.2}{10}\selectfont, text=textgray, draw=black!20, fill=white,
    fill opacity=0.8, text opacity=1, rounded corners=2pt, cells={anchor=west},
    inner xsep=2pt, inner ysep=1.5pt},
  legend image code/.code={\draw[#1] (0pt,0pt) -- (17pt,0pt);},
]
\nextgroupplot[title={Vertex \textit{v}\textsubscript{1} dynamics},
  ylabel={\textit{x}\textsubscript{1}(\textit{t})},
  ymin=-0.51, ymax=0.94, ytick={-0.5,0,0.5}, yticklabels={−0.5,0.0,0.5}]
\coordinate (TL) at (rel axis cs:0,1);
\addplot[cleanline] table[x=t,y=c]{\dA};
\addlegendentry{Clean α=1.0}
\addplot[noisyone] table[x=t,y=r]{\dA};
\addlegendentry{Noisy α=1.0}
\addplot[noisytwo] table[x=t,y=g]{\dA};
\addlegendentry{Noisy α=0.8}

\nextgroupplot[title={Vertex \textit{v}\textsubscript{2} dynamics},
  ylabel={\textit{x}\textsubscript{2}(\textit{t})},
  ymin=-0.428, ymax=0.555, ytick={-0.4,-0.2,0,0.2,0.4}, yticklabels={−0.4,−0.2,0.0,0.2,0.4}]
\addplot[cleanline] table[x=t,y=c]{\dB};
\addplot[noisyone] table[x=t,y=r]{\dB};
\addplot[noisytwo] table[x=t,y=g]{\dB};

\nextgroupplot[title={Vertex \textit{v}\textsubscript{3} dynamics},
  ylabel={\textit{x}\textsubscript{3}(\textit{t})},
  ymin=-0.331, ymax=0.415, ytick={-0.2,0,0.2,0.4}, yticklabels={−0.2,0.0,0.2,0.4}]
\addplot[cleanline] table[x=t,y=c]{\dC};
\addplot[noisyone] table[x=t,y=r]{\dC};
\addplot[noisytwo] table[x=t,y=g]{\dC};

\nextgroupplot[title={Vertex \textit{v}\textsubscript{4} dynamics},
  ylabel={\textit{x}\textsubscript{4}(\textit{t})},
  ymin=-0.35, ymax=0.329, ytick={-0.2,0,0.2}, yticklabels={−0.2,0.0,0.2}]
\addplot[cleanline] table[x=t,y=c]{\dD};
\addplot[noisyone] table[x=t,y=r]{\dD};
\addplot[noisytwo] table[x=t,y=g]{\dD};

\nextgroupplot[title={Vertex \textit{v}\textsubscript{5} dynamics},
  ylabel={\textit{x}\textsubscript{5}(\textit{t})},
  ymin=-0.274, ymax=0.262, ytick={-0.2,0,0.2}, yticklabels={−0.2,0.0,0.2}]
\addplot[cleanline] table[x=t,y=c]{\dE};
\addplot[noisyone] table[x=t,y=r]{\dE};
\addplot[noisytwo] table[x=t,y=g]{\dE};

\nextgroupplot[title={Vertex \textit{v}\textsubscript{6} dynamics},
  ylabel={\textit{x}\textsubscript{6}(\textit{t})},
  ymin=-0.2145, ymax=0.241, ytick={-0.2,-0.1,0,0.1,0.2}, yticklabels={−0.2,−0.1,0.0,0.1,0.2}]
\addplot[cleanline] table[x=t,y=c]{\dF};
\addplot[noisyone] table[x=t,y=r]{\dF};
\addplot[noisytwo] table[x=t,y=g]{\dF};

\nextgroupplot[title={Vertex \textit{v}\textsubscript{7} dynamics},
  ylabel={\textit{x}\textsubscript{7}(\textit{t})},
  ymin=-0.207, ymax=0.269, ytick={-0.2,-0.1,0,0.1,0.2}, yticklabels={−0.2,−0.1,0.0,0.1,0.2}]
\addplot[cleanline] table[x=t,y=c]{\dG};
\addplot[noisyone] table[x=t,y=r]{\dG};
\addplot[noisytwo] table[x=t,y=g]{\dG};

\nextgroupplot[title={Vertex \textit{v}\textsubscript{8} dynamics},
  ylabel={\textit{x}\textsubscript{8}(\textit{t})},
  ymin=-0.2435, ymax=0.273, ytick={-0.2,0,0.2}, yticklabels={−0.2,0.0,0.2}]
\addplot[cleanline] table[x=t,y=c]{\dH};
\addplot[noisyone] table[x=t,y=r]{\dH};
\addplot[noisytwo] table[x=t,y=g]{\dH};

\nextgroupplot[title={Vertex \textit{v}\textsubscript{9} dynamics},
  ylabel={\textit{x}\textsubscript{9}(\textit{t})},
  ymin=-0.194, ymax=0.240, ytick={-0.1,0,0.1,0.2}, yticklabels={−0.1,0.0,0.1,0.2}]
\addplot[cleanline] table[x=t,y=c]{\dI};
\addplot[noisyone] table[x=t,y=r]{\dI};
\addplot[noisytwo] table[x=t,y=g]{\dI};

\nextgroupplot[title={Vertex \textit{v}\textsubscript{10} dynamics},
  ylabel={\textit{x}\textsubscript{10}(\textit{t})},
  ymin=-0.191, ymax=0.274, ytick={-0.1,0,0.1,0.2}, yticklabels={−0.1,0.0,0.1,0.2}]
\coordinate (BR) at (rel axis cs:1,0);
\addplot[cleanline] table[x=t,y=c]{\dJ};
\addplot[noisyone] table[x=t,y=r]{\dJ};
\addplot[noisytwo] table[x=t,y=g]{\dJ};
\end{groupplot}
\pgfresetboundingbox
\useasboundingbox ([shift={(-42.8pt,16.7pt)}]TL) rectangle ([shift={(3pt,-26.1pt)}]BR);
\end{tikzpicture}
\end{document}
